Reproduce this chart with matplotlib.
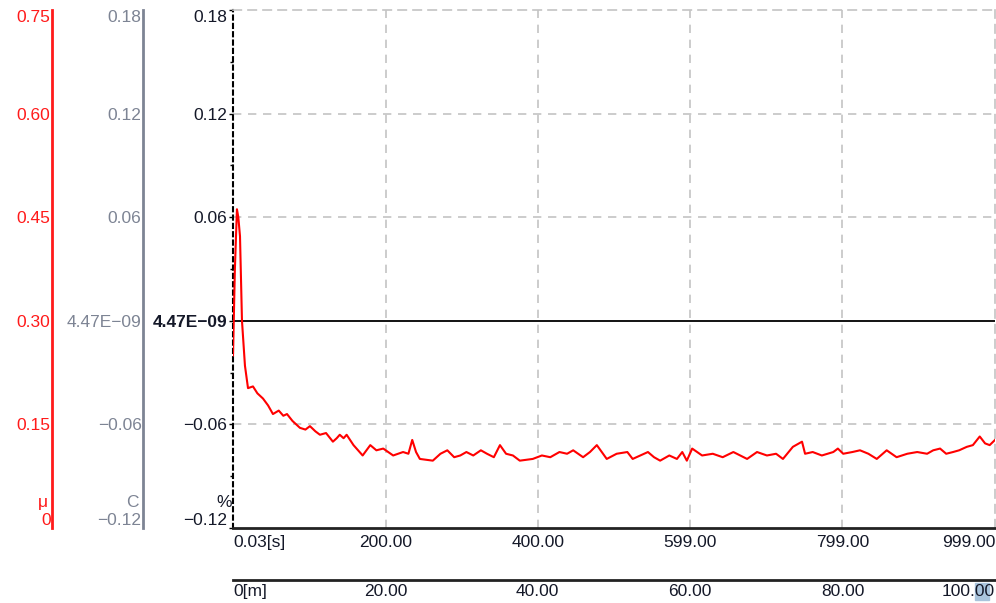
import matplotlib.pyplot as plt
from matplotlib.patches import Rectangle
from matplotlib.transforms import offset_copy

plt.rcParams['font.family'] = ['Liberation Sans', 'DejaVu Sans']

# time [s] and measured value [%]
time_s = [0.03, 2.5, 5.2, 7.0, 9.2, 11.8, 15.7, 19.7, 26.2, 32.0, 39.3, 46.0, 52.4,
          60.0, 66.0, 70.8, 78.0, 87.8, 95.0, 100.9, 108.0, 114.0, 122.0, 131.0,
          136.0, 140.0, 145.0, 149.0, 158.0, 170.0, 175.0, 180.0, 188.0, 197.0,
          210.0, 223.0, 230.0, 235.0, 240.0, 245.0, 262.0, 272.0, 281.0, 290.0,
          298.0, 306.0, 315.0, 325.0, 333.0, 342.0, 350.0, 358.0, 367.0, 376.0,
          393.0, 405.0, 416.0, 428.0, 438.0, 446.0, 459.0, 468.0, 477.0, 490.0,
          503.0, 517.0, 524.0, 534.0, 544.0, 552.0, 560.0, 572.0, 582.0, 589.0,
          595.0, 602.0, 615.0, 629.0, 642.0, 656.0, 665.0, 674.0, 687.0, 700.0,
          712.0, 721.0, 734.0, 746.0, 750.0, 760.0, 772.0, 787.0, 793.0, 800.0,
          812.0, 822.0, 833.0, 844.0, 857.0, 870.0, 884.0, 897.0, 910.0, 918.0,
          927.0, 935.0, 944.0, 952.0, 962.0, 970.0, 979.0, 986.0, 992.0, 999.0]
value_pct = [-0.020, 0.030, 0.0646, 0.060, 0.049, 0.000, -0.026, -0.039, -0.038,
             -0.042, -0.045, -0.049, -0.054, -0.052, -0.055, -0.054, -0.058, -0.062,
             -0.063, -0.061, -0.064, -0.066, -0.065, -0.070, -0.068, -0.066, -0.068,
             -0.066, -0.072, -0.078, -0.075, -0.072, -0.075, -0.074, -0.078, -0.076,
             -0.077, -0.069, -0.076, -0.080, -0.081, -0.077, -0.075, -0.079, -0.078,
             -0.076, -0.078, -0.075, -0.077, -0.079, -0.072, -0.077, -0.078, -0.081,
             -0.080, -0.078, -0.079, -0.076, -0.077, -0.075, -0.079, -0.076, -0.072,
             -0.080, -0.077, -0.076, -0.080, -0.078, -0.076, -0.079, -0.081, -0.078,
             -0.080, -0.076, -0.081, -0.074, -0.078, -0.077, -0.079, -0.076, -0.078,
             -0.080, -0.076, -0.078, -0.077, -0.080, -0.073, -0.070, -0.077, -0.076,
             -0.078, -0.076, -0.074, -0.077, -0.076, -0.075, -0.077, -0.080, -0.075,
             -0.079, -0.077, -0.076, -0.077, -0.075, -0.074, -0.077, -0.076, -0.075,
             -0.073, -0.072, -0.067, -0.071, -0.072, -0.069]

pct_ticks = [0.18, 0.12, 0.06, 4.47e-09, -0.06, -0.12]
pct_labels = ['0.18', '0.12', '0.06', '4.47E\u221209', '\u22120.06', '\u22120.12']
mu_ticks = [0.75, 0.60, 0.45, 0.30, 0.15, 0.0]
mu_labels = ['0.75', '0.60', '0.45', '0.30', '0.15', '0']
time_ticks = [0.03, 200, 400, 599, 799, 999]
time_labels = ['0.03[s]', '200.00', '400.00', '599.00', '799.00', '999.00']
dist_ticks = [0, 20, 40, 60, 80, 100]
dist_labels = ['0[m]', '20.00', '40.00', '60.00', '80.00', '100.00']

FS = 12.5
RED = '#ff1a1a'
GRAY = '#7d8494'
INK = '#141828'
GRID = '#c4c4c4'

W, H = 996, 603
fig = plt.figure(figsize=(W / 100, H / 100), dpi=100)

x0, x1 = 233, 995
y_top, y_bot = 10, 528
bottom = 1 - y_bot / H
height = (y_bot - y_top) / H


def edge_labels(axis, first_ha=None, last_ha=None, first_va=None, last_va=None):
    ticks = axis.get_major_ticks()
    if first_ha:
        ticks[0].label1.set_horizontalalignment(first_ha)
    if last_ha:
        ticks[-1].label1.set_horizontalalignment(last_ha)
    if first_va:
        ticks[0].label1.set_verticalalignment(first_va)
    if last_va:
        ticks[-1].label1.set_verticalalignment(last_va)


# main plot
ax = fig.add_axes([x0 / W, bottom, (x1 - x0) / W, height])
ax.set_xlim(0.03, 999)
ax.set_ylim(-0.12, 0.18)
ax.plot(time_s, value_pct, color='#ff0000', lw=1.5, zorder=3)
ax.axhline(pct_ticks[3], color='black', lw=1.3, zorder=2)

for v in pct_ticks[1:3] + pct_ticks[4:5]:
    ax.axhline(v, color=GRID, lw=1.2, ls=(0, (5, 4)), zorder=1)
for v in time_ticks[1:5]:
    ax.axvline(v, color=GRID, lw=1.2, ls=(0, (5, 4)), zorder=1)

for side in ['top', 'right']:
    ax.spines[side].set_color(GRID)
    ax.spines[side].set_linestyle((0, (5, 4)))
    ax.spines[side].set_linewidth(1.2)
ax.spines['left'].set_color('black')
ax.spines['left'].set_linestyle((0, (2, 2)))
ax.spines['left'].set_linewidth(1.5)
ax.spines['bottom'].set_color('#222222')
ax.spines['bottom'].set_linewidth(2)

ax.set_yticks(pct_ticks, pct_labels)
ax.set_yticks([0.15, 0.09, 0.03, -0.03, -0.09], minor=True)
ax.tick_params(axis='y', which='major', length=3, width=1, pad=1,
               labelsize=FS, labelcolor=INK, color='black')
ax.tick_params(axis='y', which='minor', length=2, width=1, color='black')
ax.get_yticklabels()[3].set_fontweight('bold')
edge_labels(ax.yaxis, first_va='top', last_va='bottom')

ax.set_xticks(time_ticks, time_labels)
ax.tick_params(axis='x', length=0, pad=5, labelsize=FS, labelcolor=INK)
edge_labels(ax.xaxis, first_ha='left', last_ha='right')
ax.text(0, 0.05, '%', transform=offset_copy(ax.transAxes, fig, x=-1, units='points'),
        ha='right', va='center', fontsize=FS, color=INK)

# extra left scales
for xpos, ticks, labels, col, lim, unit in [
        (52, mu_ticks, mu_labels, RED, (0, 0.75), '\u03bc'),
        (143, pct_ticks, pct_labels, GRAY, (-0.12, 0.18), 'C')]:
    sub = fig.add_axes([xpos / W, bottom, 0.0001, height])
    sub.set_ylim(*lim)
    sub.patch.set_visible(False)
    for side in ['top', 'right', 'bottom']:
        sub.spines[side].set_visible(False)
    sub.spines['left'].set_color(col)
    sub.spines['left'].set_linewidth(2)
    sub.set_xticks([])
    sub.set_yticks(ticks, labels)
    sub.tick_params(axis='y', length=0, pad=1, labelsize=FS, labelcolor=col)
    edge_labels(sub.yaxis, first_va='top', last_va='bottom')
    sub.text(0, 0.05, unit,
             transform=offset_copy(sub.transAxes, fig, x=-3, units='points'),
             ha='right', va='center', fontsize=FS, color=col)

# distance axis
dist = fig.add_axes([x0 / W, 1 - 580 / H, (x1 - x0) / W, 0.0001])
dist.set_xlim(0, 100)
dist.patch.set_visible(False)
for side in ['top', 'right', 'left']:
    dist.spines[side].set_visible(False)
dist.spines['bottom'].set_color('#222222')
dist.spines['bottom'].set_linewidth(2)
dist.set_yticks([])
dist.set_xticks(dist_ticks, dist_labels)
dist.tick_params(axis='x', length=0, pad=3, labelsize=FS, labelcolor=INK)
edge_labels(dist.xaxis, first_ha='left', last_ha='right')

fig.patches.append(Rectangle((975 / W, 1 - 600 / H), 14 / W, 17 / H,
                             transform=fig.transFigure, color='#a9c4dc',
                             zorder=-1))

fig.savefig('out.png', dpi=100)
